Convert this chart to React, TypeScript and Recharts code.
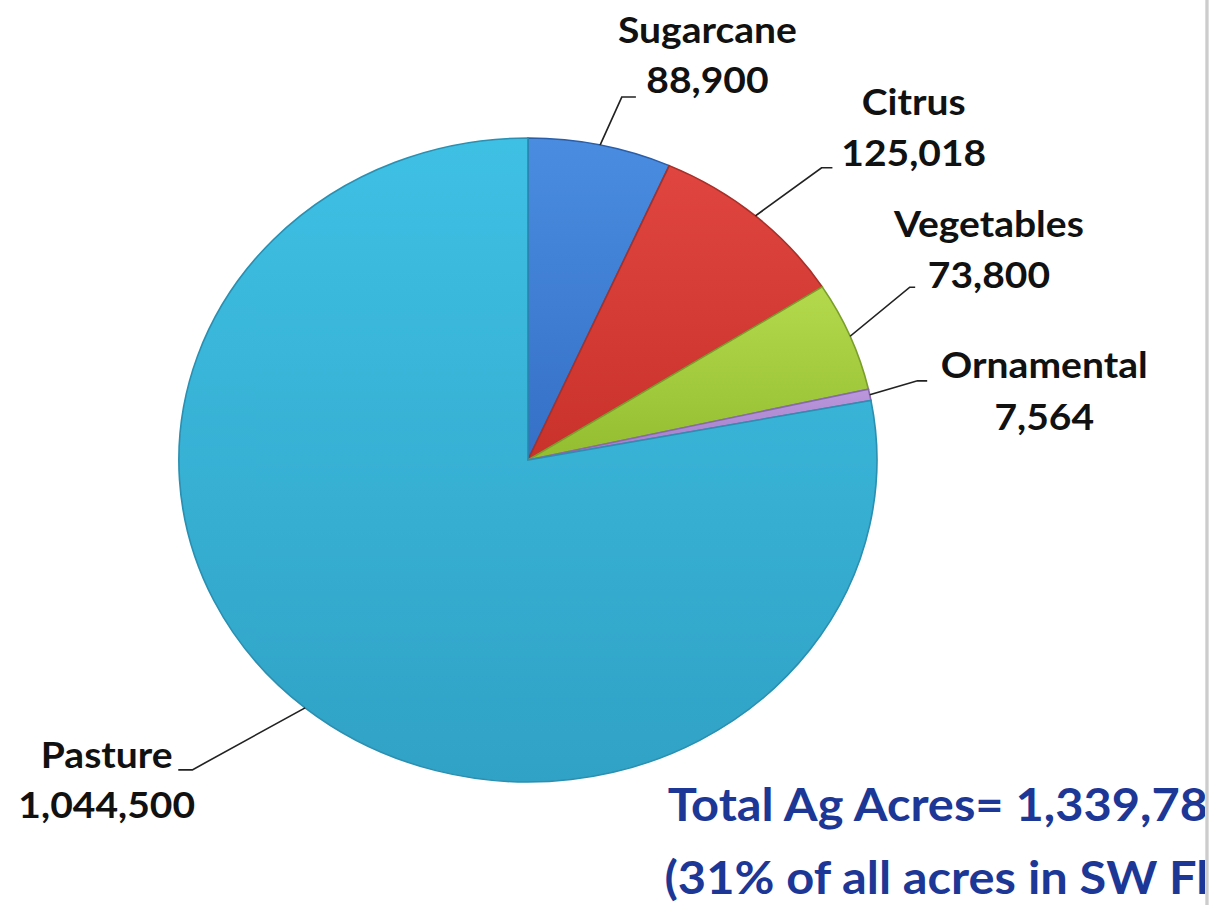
import { PieChart, Pie, Cell } from 'recharts';

const crops = ['Sugarcane', 'Citrus', 'Vegetables', 'Ornamental', 'Pasture'];
const acres = [88900, 125018, 73800, 7564, 1044500];
const shareOfRegion = '31%';
const regionName = 'SW Florida';

// the source picture is stretched sideways, so the whole chart is drawn narrow and scaled
const SX = 1.084;
const W = 1123;
const H = 905;

const FILLS: Record<string, [string, string, string]> = {
  Sugarcane: ['#4a8de0', '#3570c6', '#2a5ea8'],
  Citrus: ['#e0463f', '#c9312b', '#a8302a'],
  Vegetables: ['#b4d94c', '#93be30', '#7a9e2a'],
  Ornamental: ['#bb98dc', '#a07cc8', '#8a68b0'],
  Pasture: ['#3ec0e4', '#30a2c5', '#2a8fb0'],
};

// leader line elbow / end and text centre, relative to the slice edge point
const LABEL_POS: Record<string, { ex: number; ey: number; end: number; tx: number; b1: number; b2: number }> = {
  Sugarcane: { ex: 20, ey: -48, end: 33, tx: 99, b1: -102, b2: -52 },
  Citrus: { ex: 61, ey: -48, end: 71, tx: 146, b1: -101, b2: -50 },
  Vegetables: { ex: 55, ey: -49, end: 60, tx: 128, b1: -99, b2: -48 },
  Ornamental: { ex: 44, ey: -14, end: 53, tx: 161, b1: -17, b2: 35 },
  Pasture: { ex: -104, ey: 62, end: -117, tx: -183, b1: 60, b2: 110 },
};

const data = crops.map((name, i) => ({ name, value: acres[i] }));
const total = acres.reduce((a, b) => a + b, 0);
const fmt = (v: number) => v.toLocaleString('en-US');

const RAD = Math.PI / 180;

function renderLabel(props: any) {
  const { cx, cy, midAngle, outerRadius, name, value } = props;
  const x0 = cx + outerRadius * Math.cos(-midAngle * RAD);
  const y0 = cy + outerRadius * Math.sin(-midAngle * RAD);
  const p = LABEL_POS[name];
  const x1 = x0 + p.ex;
  const y1 = y0 + p.ey;
  const x2 = x0 + p.end;
  return (
    <g>
      <polyline
        points={`${x0},${y0} ${x1},${y1} ${x2},${y1}`}
        fill="none"
        stroke="#222"
        strokeWidth={1.6}
      />
      <text
        x={x0 + p.tx}
        textAnchor="middle"
        fontFamily="Lato, 'Open Sans', sans-serif"
        fontWeight={700}
        fontSize={36}
        fill="#111"
      >
        <tspan x={x0 + p.tx} y={y0 + p.b1}>{name}</tspan>
        <tspan x={x0 + p.tx} y={y0 + p.b2}>{fmt(value)}</tspan>
      </text>
    </g>
  );
}

export default function App() {
  return (
    <div
      style={{
        position: 'absolute',
        left: 0,
        top: 0,
        width: 1217,
        height: H,
        background: '#fff',
        overflow: 'hidden',
      }}
    >
      <div style={{ position: 'absolute', left: 0, top: 0, width: 1205, height: H, overflow: 'hidden' }}>
        <div style={{ position: 'relative', width: W, height: H, transform: `scaleX(${SX})`, transformOrigin: '0 0' }}>
          <PieChart width={W} height={H} margin={{ top: 0, right: 0, bottom: 0, left: 0 }}>
            <defs>
              {crops.map((c) => (
                <linearGradient key={c} id={`g-${c}`} x1="0" y1="0" x2="0" y2="1">
                  <stop offset="0%" stopColor={FILLS[c][0]} />
                  <stop offset="100%" stopColor={FILLS[c][1]} />
                </linearGradient>
              ))}
            </defs>
            <Pie
              data={data}
              dataKey="value"
              nameKey="name"
              cx={487}
              cy={460}
              outerRadius={322}
              startAngle={90}
              endAngle={-270}
              isAnimationActive={false}
              label={renderLabel}
              labelLine={false}
            >
              {data.map((d) => (
                <Cell key={d.name} fill={`url(#g-${d.name})`} stroke={FILLS[d.name][2]} strokeWidth={1.5} />
              ))}
            </Pie>
          </PieChart>
          <svg width={W} height={H} style={{ position: 'absolute', left: 0, top: 0, overflow: 'visible', pointerEvents: 'none' }}>
            <g fontFamily="Lato, 'Open Sans', sans-serif" fontWeight={700} fontSize={45} fill="#1c3796">
              <text x={616} y={821}>{`Total Ag Acres= ${fmt(total)}`}</text>
              <text x={613} y={894}>{`(${shareOfRegion} of all acres in ${regionName})`}</text>
            </g>
          </svg>
        </div>
      </div>
      <div
        style={{
          position: 'absolute',
          left: 1205,
          top: 0,
          width: 4,
          height: H,
          background: 'linear-gradient(to right, #e4e4e4, #c4c4c4, #e8e8e8)',
        }}
      />
    </div>
  );
}
